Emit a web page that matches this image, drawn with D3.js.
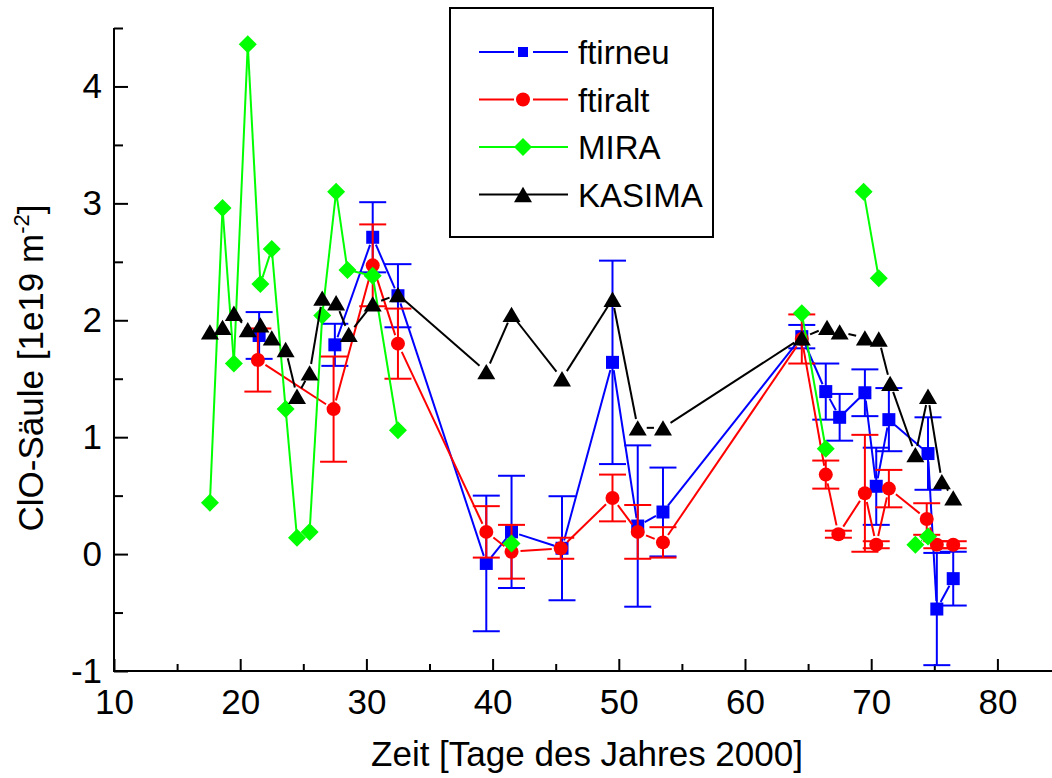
<!DOCTYPE html>
<html>
<head>
<meta charset="utf-8">
<script src="https://cdn.jsdelivr.net/npm/d3@7"></script>
<style>
  body { margin: 0; background: #fff; }
  svg { display: block; font-family: "Liberation Sans", Arial, sans-serif; }
</style>
</head>
<body>
<script>
    // ftirneu (blue squares) - null marks a break in the line
    var neuDays   = [21.5, 24.5, 27.5, 30.5, 32.5, 39.5, 41.5, 45.5, 49.5, 51.5, 53.5, 64.5, 66.4, 67.5, 69.5, 70.4, 71.4, 74.5, 75.2, 76.5];
    var neuValues = [1.87, null, 1.79, 2.71, 2.21, -0.08, 0.19, 0.05, 1.64, 0.24, 0.36, 1.86, 1.39, 1.17, 1.38, 0.58, 1.15, 0.86, -0.47, -0.21];
    var neuErrors = [0.20, null, 0.18, 0.30, 0.27, 0.58, 0.48, 0.445, 0.87, 0.69, 0.38, 0.10, 0.24, 0.20, 0.20, 0.33, 0.27, 0.31, 0.48, 0.23];

    // ftiralt (red circles)
    var altDays   = [21.4, 27.4, 30.5, 32.5, 39.5, 41.5, 45.4, 49.5, 51.5, 53.5, 64.5, 66.4, 67.4, 69.5, 70.4, 71.4, 74.4, 75.2, 76.5];
    var altValues = [1.66, 1.24, 2.47, 1.80, 0.19, 0.02, 0.05, 0.48, 0.19, 0.10, 1.84, 0.68, 0.17, 0.52, 0.08, 0.56, 0.30, 0.08, 0.08];
    var altErrors = [0.27, 0.45, 0.35, 0.30, 0.22, 0.23, 0.09, 0.20, 0.23, 0.13, 0.21, 0.12, 0.03, 0.50, 0.03, 0.16, 0.135, 0.03, 0.03];

    // MIRA (green diamonds)
    var miraDays   = [17.6, 18.6, 19.5, 20.6, 21.6, 22.5, 23.6, 24.5, 25.5, 26.5, 27.6, 28.5, 30.5, 32.5, 36.5, 41.5, 50.5, 64.5, 66.4, 68.0, 69.4, 70.6, 72.0, 73.5, 74.5];
    var miraValues = [0.44, 2.96, 1.63, 4.36, 2.31, 2.61, 1.24, 0.14, 0.19, 2.04, 3.10, 2.43, 2.38, 1.06, null, 0.09, null, 2.06, 0.90, null, 3.10, 2.36, null, 0.08, 0.15];

    // KASIMA (black triangles)
    var kasDays   = [17.6, 18.6, 19.5, 20.6, 21.6, 22.5, 23.6, 24.5, 25.5, 26.5, 27.6, 28.6, 30.5, 32.5, 39.5, 41.5, 45.5, 49.5, 51.5, 53.5, 64.5, 66.5, 67.5, 69.5, 70.6, 71.5, 73.5, 74.5, 75.6, 76.5];
    var kasValues = [1.90, 1.94, 2.06, 1.92, 1.96, 1.85, 1.75, 1.35, 1.55, 2.19, 2.15, 1.88, 2.14, 2.22, 1.56, 2.05, 1.50, 2.18, 1.08, 1.08, 1.85, 1.94, 1.90, 1.85, 1.84, 1.46, 0.85, 1.35, 0.62, 0.48];

    var xTicks = [10, 20, 30, 40, 50, 60, 70, 80];
    var yTicks = [-1, 0, 1, 2, 3, 4];
    var legendNames = ["ftirneu", "ftiralt", "MIRA", "KASIMA"];

    var width = 1052, height = 778;
    var svg = d3.select("body").append("svg")
        .attr("width", width)
        .attr("height", height);

    // Set the ranges
    var x = d3.scaleLinear().domain([10, 85]).range([114, 1060.5]);
    var y = d3.scaleLinear().domain([-1, 4.5]).range([671, 28]);

    // marker shapes, centred on their box
    function symbolPath(kind, r) {
        if (kind === "square") return "M" + (-r) + "," + (-r) + "h" + (2 * r) + "v" + (2 * r) + "h" + (-2 * r) + "Z";
        if (kind === "diamond") return "M0," + (-r) + "L" + r + ",0L0," + r + "L" + (-r) + ",0Z";
        if (kind === "triangle") return "M0," + (-r * 0.85) + "L" + r + "," + (r * 0.85) + "L" + (-r) + "," + (r * 0.85) + "Z";
        return d3.arc()({innerRadius: 0, outerRadius: r, startAngle: 0, endAngle: 2 * Math.PI});
    }

    var series = [
        {name: "ftirneu", days: neuDays, values: neuValues, errors: neuErrors, color: "#0000ff", kind: "square", r: 6.5, gap: 8},
        {name: "ftiralt", days: altDays, values: altValues, errors: altErrors, color: "#ff0000", kind: "circle", r: 7, gap: 9},
        {name: "MIRA", days: miraDays, values: miraValues, errors: null, color: "#00ff00", kind: "diamond", r: 9, gap: 7},
        {name: "KASIMA", days: kasDays, values: kasValues, errors: null, color: "#000000", kind: "triangle", r: 9, gap: 9}
    ];

    var numFmt = function (d) { return String(d); };

    // axes
    var axisG = svg.append("g").attr("class", "axes");

    axisG.append("g")
        .attr("transform", "translate(0,671)")
        .call(d3.axisBottom(x).tickValues(d3.range(15, 85, 10)).tickSize(-7).tickSizeOuter(0).tickFormat(""))
        .call(function (g) { g.select(".domain").remove(); });

    axisG.append("g")
        .attr("transform", "translate(0,671)")
        .call(d3.axisBottom(x).tickValues(xTicks).tickSize(-12).tickSizeOuter(0).tickPadding(18).tickFormat(numFmt))
        .call(function (g) { g.select(".domain").remove(); });

    axisG.append("g")
        .attr("transform", "translate(114,0)")
        .call(d3.axisLeft(y).tickValues(d3.range(-0.5, 4.6, 1)).tickSize(-9).tickSizeOuter(0).tickFormat(""))
        .call(function (g) { g.select(".domain").remove(); });

    axisG.append("g")
        .attr("transform", "translate(114,0)")
        .call(d3.axisLeft(y).tickValues(yTicks).tickSize(-14).tickSizeOuter(0).tickPadding(12).tickFormat(numFmt))
        .call(function (g) { g.select(".domain").remove(); });

    axisG.selectAll(".tick line").attr("stroke", "#000").attr("stroke-width", 2);
    axisG.selectAll(".tick text").attr("font-size", 35).attr("fill", "#000")
        .attr("font-family", "Liberation Sans, Arial, sans-serif");

    axisG.append("line").attr("x1", 114).attr("x2", 114).attr("y1", y(4.5)).attr("y2", 672).attr("stroke", "#000").attr("stroke-width", 2);
    axisG.append("line").attr("x1", 113).attr("x2", width).attr("y1", 671).attr("y2", 671).attr("stroke", "#000").attr("stroke-width", 2);

    // axis titles
    svg.append("text")
        .attr("x", 587).attr("y", 766)
        .attr("text-anchor", "middle")
        .attr("font-size", 35)
        .text("Zeit [Tage des Jahres 2000]");

    var yTitle = svg.append("text")
        .attr("transform", "translate(43,368) rotate(-90)")
        .attr("text-anchor", "middle")
        .attr("font-size", 35);
    yTitle.append("tspan").text("ClO-Säule [1e19 m");
    yTitle.append("tspan").attr("font-size", 22).attr("dy", -14).text("-2");
    yTitle.append("tspan").attr("dy", 14).text("]");

    var plot = svg.append("g");

    series.forEach(function (s) {
        var pts = s.days.map(function (d, i) {
            return {day: d, value: s.values[i], err: s.errors ? s.errors[i] : null};
        });
        var g = plot.append("g");

        // line segments, stopping short of the markers
        for (var i = 0; i < pts.length - 1; i++) {
            var a = pts[i], b = pts[i + 1];
            if (a.value === null || b.value === null) continue;
            var x1 = x(a.day), y1 = y(a.value), x2 = x(b.day), y2 = y(b.value);
            var len = Math.sqrt((x2 - x1) * (x2 - x1) + (y2 - y1) * (y2 - y1));
            if (len <= 2 * s.gap) continue;
            var ux = (x2 - x1) / len, uy = (y2 - y1) / len;
            g.append("line")
                .attr("x1", x1 + ux * s.gap).attr("y1", y1 + uy * s.gap)
                .attr("x2", x2 - ux * s.gap).attr("y2", y2 - uy * s.gap)
                .attr("stroke", s.color).attr("stroke-width", 2);
        }

        var valid = pts.filter(function (p) { return p.value !== null; });

        // error bars
        if (s.errors) {
            var eb = g.selectAll(".err").data(valid).enter().append("g").attr("class", "err")
                .attr("stroke", s.color).attr("stroke-width", 2);
            eb.append("line")
                .attr("x1", function (d) { return x(d.day); })
                .attr("x2", function (d) { return x(d.day); })
                .attr("y1", function (d) { return y(d.value + d.err); })
                .attr("y2", function (d) { return y(d.value - d.err); });
            eb.append("line")
                .attr("x1", function (d) { return x(d.day) - 13.5; })
                .attr("x2", function (d) { return x(d.day) + 13.5; })
                .attr("y1", function (d) { return y(d.value + d.err); })
                .attr("y2", function (d) { return y(d.value + d.err); });
            eb.append("line")
                .attr("x1", function (d) { return x(d.day) - 13.5; })
                .attr("x2", function (d) { return x(d.day) + 13.5; })
                .attr("y1", function (d) { return y(d.value - d.err); })
                .attr("y2", function (d) { return y(d.value - d.err); });
        }

        g.selectAll(".mark").data(valid).enter().append("path")
            .attr("class", "mark")
            .attr("d", symbolPath(s.kind, s.r))
            .attr("transform", function (d) { return "translate(" + x(d.day) + "," + y(d.value) + ")"; })
            .attr("fill", s.color);
    });

    // legend
    var legend = svg.append("g");
    legend.append("rect")
        .attr("x", 450).attr("y", 8).attr("width", 263).attr("height", 229)
        .attr("fill", "#fff").attr("stroke", "#000").attr("stroke-width", 2);

    series.forEach(function (s, i) {
        var ly = 52 + i * 47.5;
        var row = legend.append("g");
        var split = s.kind === "square" || s.kind === "circle";
        row.append("line").attr("x1", 479).attr("x2", split ? 514 : 523).attr("y1", ly).attr("y2", ly)
            .attr("stroke", s.color).attr("stroke-width", 2);
        row.append("line").attr("x1", split ? 533 : 523).attr("x2", 568).attr("y1", ly).attr("y2", ly)
            .attr("stroke", s.color).attr("stroke-width", 2);
        row.append("path")
            .attr("d", symbolPath(s.kind, s.kind === "square" ? 5 : s.r))
            .attr("transform", "translate(523," + ly + ")")
            .attr("fill", s.color);
        row.append("text")
            .attr("x", 578).attr("y", ly + 12)
            .attr("font-size", 33)
            .text(legendNames[i]);
    });
</script>
</body>
</html>
